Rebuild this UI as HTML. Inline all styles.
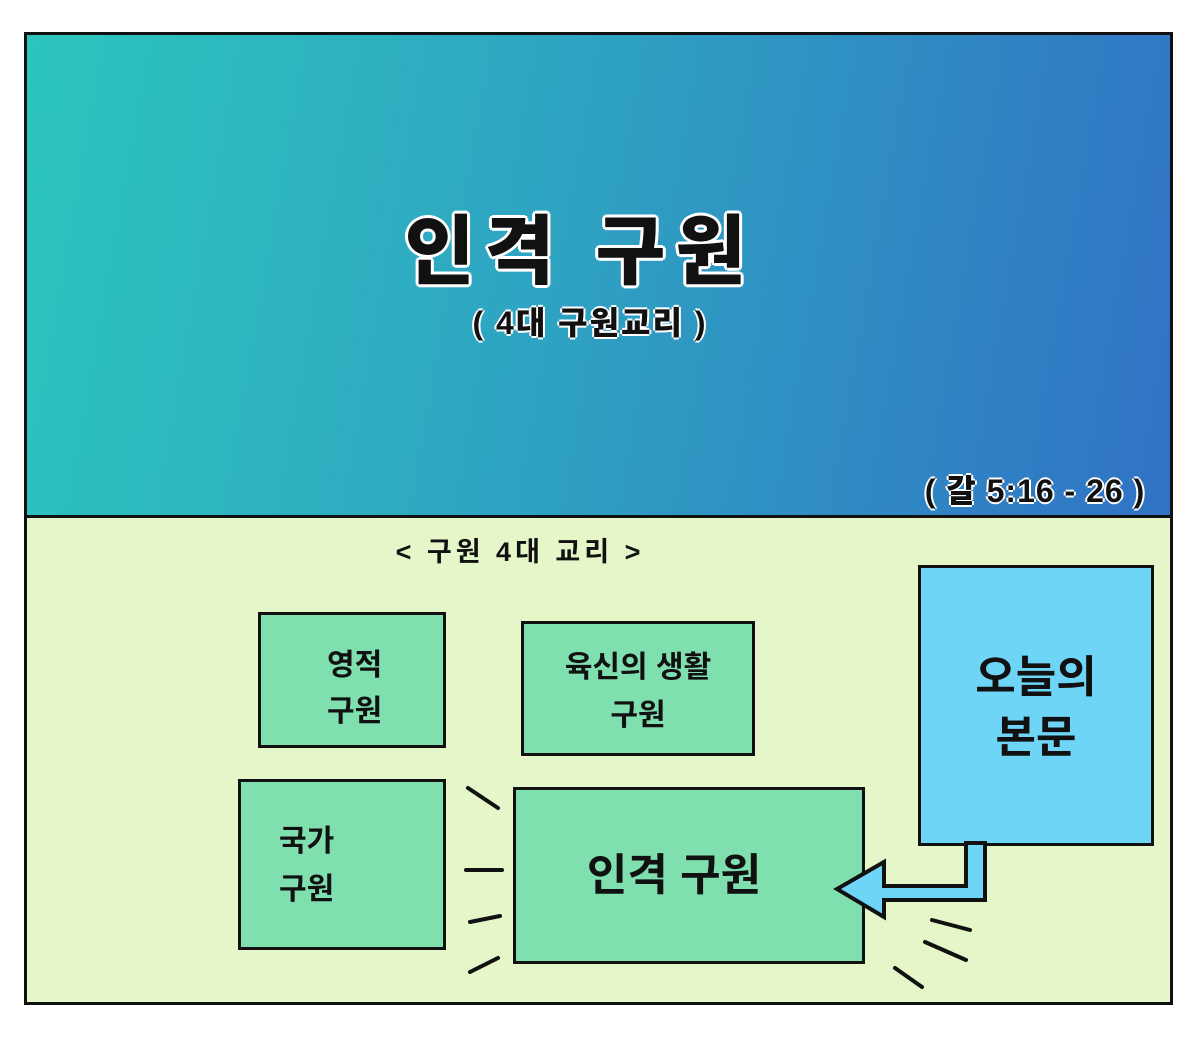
<!DOCTYPE html><html><head><meta charset="utf-8"><style>
body{margin:0;width:1200px;height:1040px;background:#fff;position:relative;font-family:"Liberation Sans","Noto Sans CJK KR",sans-serif;overflow:hidden}
.a{position:absolute;box-sizing:border-box}
.b{border:3px solid #111;background:#7fdfae;font-weight:bold;color:#111}
.t{position:absolute;font-weight:900;text-align:center;color:#111}
</style></head><body>
<div class="a" style="left:24px;top:32px;width:1149px;height:973px;border:3px solid #111;background:#e5f6c9"></div>
<div class="a" style="left:27px;top:35px;width:1143px;height:481px;background:linear-gradient(100deg,#2cc6bd 0%,#2ea4c2 45%,#3172c4 100%)"></div>
<div class="a" style="left:24px;top:515px;width:1149px;height:3px;background:#111"></div>
<div class="t" style="left:290px;top:190px;width:580px;font-size:76px;letter-spacing:10px;text-shadow:3px 0 #fff,-3px 0 #fff,0 3px #fff,0 -3px #fff,2px 2px #fff,-2px -2px #fff,2px -2px #fff,-2px 2px #fff">인격 구원</div>
<div class="t" style="left:370px;top:298px;width:440px;font-size:32px;letter-spacing:2px;text-shadow:2px 0 #fff,-2px 0 #fff,0 2px #fff,0 -2px #fff">( 4대 구원교리 )</div>
<div class="t" style="left:895px;top:466px;width:280px;font-size:32px;letter-spacing:1px;text-shadow:2px 0 #fff,-2px 0 #fff,0 2px #fff,0 -2px #fff">( 갈 5:16 - 26 )</div>
<div class="t" style="left:350px;top:530px;width:340px;font-size:27px;font-weight:bold;letter-spacing:4px">&lt; 구원 4대 교리 &gt;</div>
<div class="a b" style="left:258px;top:612px;width:188px;height:136px"><div style="position:absolute;left:66px;top:28px;font-size:30px;line-height:46px">영적<br>구원</div></div>
<div class="a b" style="left:521px;top:621px;width:234px;height:135px;text-align:center;font-size:30px;line-height:48px;padding-top:20px">육신의 생활<br>구원</div>
<div class="a b" style="left:238px;top:779px;width:208px;height:171px"><div style="position:absolute;left:38px;top:36px;font-size:30px;line-height:48px">국가<br>구원</div></div>
<div class="a b" style="left:513px;top:787px;width:352px;height:177px;text-align:center;font-size:44px;line-height:171px;padding-right:30px">인격 구원</div>
<div class="a b" style="left:918px;top:565px;width:236px;height:281px;background:#6fd5f7;text-align:center;font-size:44px;line-height:60px;padding-top:80px">오늘의<br>본문</div>
<svg class="a" style="left:0;top:0" width="1200" height="1040">
<polygon points="966,843 985,843 985,900 884,900 884,917 837,889 884,862 884,886 966,886" fill="#6fd5f7" stroke="#111" stroke-width="4" stroke-linejoin="miter"/>
<g stroke="#111" stroke-width="4" stroke-linecap="round">
<line x1="468" y1="788" x2="498" y2="808"/><line x1="466" y1="870" x2="502" y2="870"/><line x1="470" y1="922" x2="500" y2="916"/><line x1="470" y1="972" x2="498" y2="958"/>
<line x1="932" y1="920" x2="970" y2="930"/><line x1="925" y1="942" x2="966" y2="960"/><line x1="895" y1="968" x2="922" y2="987"/>
</g></svg>
</body></html>
